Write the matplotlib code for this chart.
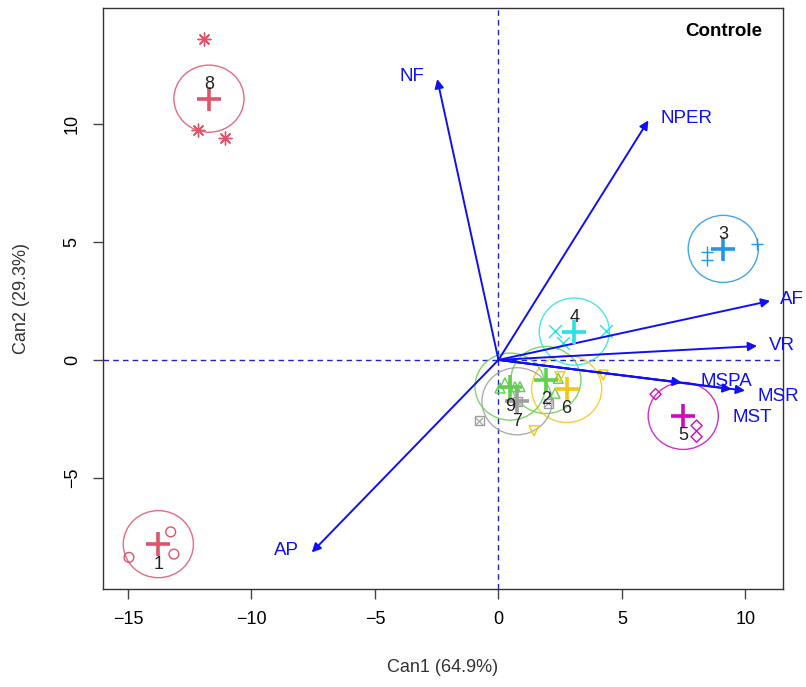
import matplotlib.pyplot as plt
import matplotlib.patches as mpatches
import numpy as np

plt.rcParams['font.family'] = ['Liberation Sans', 'DejaVu Sans']

# === Data ===
groups = ["1", "2", "3", "4", "5", "6", "7", "8", "9"]
colors = ["#DF536B", "#61D04F", "#2297E6", "#28E2E5", "#CD0BBC",
          "#F5C710", "#9E9E9E", "#DF536B", "#61D04F"]

# canonical scores per group (Can1, Can2)
pts_x = [
    [-13.27, -14.96, -13.14],
    [0.87, 2.29, 2.42],
    [8.43, 8.43, 10.45],
    [2.29, 4.34, 2.60],
    [6.36, 8.02, 8.02],
    [2.49, 4.24, 1.44],
    [-0.78, 0.76, 2.02],
    [-11.92, -12.17, -11.07],
    [0.26, 0.67, 0.06],
]
pts_y = [
    [-7.28, -8.36, -8.22],
    [-1.13, -1.41, -0.78],
    [4.55, 4.24, 4.92],
    [1.23, 1.23, 0.71],
    [-1.45, -2.78, -3.25],
    [-0.71, -0.64, -3.00],
    [-2.58, -1.77, -1.84],
    [13.60, 9.75, 9.41],
    [-0.97, -1.14, -1.19],
]
# group means
mean_x = [-13.77, 1.92, 9.10, 3.07, 7.48, 2.76, 0.75, -11.72, 0.47]
mean_y = [-7.80, -0.85, 4.70, 1.20, -2.37, -1.23, -1.75, 11.06, -1.13]
label_side = ["below", "below", "above", "above", "below", "below", "below", "above", "below"]

# structure vectors
var_names = ["NF", "NPER", "AF", "VR", "MSPA", "MSR", "MST", "AP"]
vec_x = [-2.48, 6.07, 11.00, 10.47, 7.42, 9.98, 9.44, -7.56]
vec_y = [11.89, 10.14, 2.50, 0.59, -0.96, -1.30, -1.24, -8.15]
lab_x = [-3.50, 7.63, 11.88, 11.48, 9.24, 11.32, 10.26, -8.60]
lab_y = [11.99, 10.20, 2.54, 0.59, -0.92, -1.57, -2.42, -8.05]

markers = ["o", "^", "+", "x", "D", "v", "s", (8, 2, 0), "^"]

fig = plt.figure(figsize=(8.06, 6.87), dpi=100)
ax = fig.add_axes([0.1278, 0.1426, 0.8437, 0.8458])

ax.axhline(0, color="#2222CC", lw=1, dashes=(4, 3))
ax.axvline(0, color="#2222CC", lw=1, dashes=(4, 3))

for i, g in enumerate(groups):
    c = colors[i]
    m = markers[i]
    if m == "s":
        ax.scatter(pts_x[i], pts_y[i], marker="s", s=40, facecolors="none",
                   edgecolors=c, linewidths=1, zorder=3)
        ax.scatter(pts_x[i], pts_y[i], marker="x", s=25, color=c, linewidths=0.8, zorder=3)
    elif m in ("o", "^", "D", "v"):
        ax.scatter(pts_x[i], pts_y[i], marker=m, s=50 if m != "D" else 32,
                   facecolors="none", edgecolors=c, linewidths=1, zorder=3)
    else:
        ax.scatter(pts_x[i], pts_y[i], marker=m, s=85, color=c, linewidths=1, zorder=3)
    ax.scatter([mean_x[i]], [mean_y[i]], marker="+", s=320, color=c, linewidths=2.6, zorder=4)
    ax.add_patch(mpatches.Circle((mean_x[i], mean_y[i]), 1.42, fill=False,
                                 edgecolor=c, lw=1, alpha=0.85, zorder=2))
    dy = 14 if label_side[i] == "above" else -20
    ax.annotate(g, (mean_x[i], mean_y[i]), xytext=(0, dy), textcoords="offset pixels",
                ha="center", va="center", fontsize=13, color="#222222", zorder=5)

for i, v in enumerate(var_names):
    ax.annotate("", xy=(vec_x[i], vec_y[i]), xytext=(0, 0),
                arrowprops=dict(arrowstyle="-|>", color="#1010F5", lw=1.4,
                                mutation_scale=13, shrinkA=0, shrinkB=0))
    ax.text(lab_x[i], lab_y[i], v, color="#1010F5", fontsize=13.5,
            ha="center", va="center", clip_on=False)

ax.text(0.97, 0.96, "Controle", transform=ax.transAxes, ha="right", va="center",
        fontsize=13.5, fontweight="bold")

ax.set_xlim(-16.01, 11.52)
ax.set_ylim(-9.70, 14.90)
ax.set_xticks([-15, -10, -5, 0, 5, 10])
ax.set_yticks([-5, 0, 5, 10])
ax.set_xticklabels(["\u221215", "\u221210", "\u22125", "0", "5", "10"])
ax.set_yticklabels(["\u22125", "0", "5", "10"], rotation=90, va="center")
ax.tick_params(length=7, width=1, labelsize=13, pad=9, color="#444444")
for s in ax.spines.values():
    s.set_color("#333333")
    s.set_linewidth(1)

ax.set_xlabel("Can1 (64.9%)", fontsize=13, labelpad=22, color="#333333")
ax.set_ylabel("Can2 (29.3%)", fontsize=13, labelpad=24, color="#333333")

plt.savefig("out.png", dpi=100)
